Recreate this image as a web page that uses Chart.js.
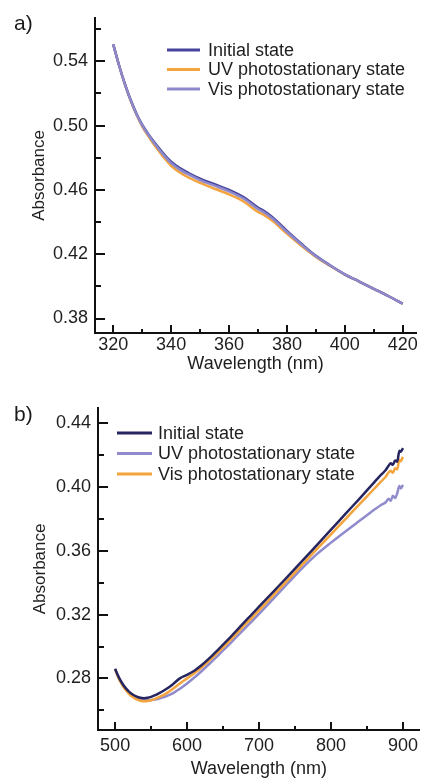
<!DOCTYPE html>
<html lang="en">
<head>
<meta charset="utf-8">
<title>Absorbance spectra</title>
<script src="https://cdn.jsdelivr.net/npm/chart.js@4.4.1/dist/chart.umd.min.js"></script>
<style>
    html, body { margin: 0; padding: 0; background: #ffffff; }
    #page { position: relative; width: 423px; height: 779px; overflow: hidden; }
    .panel { position: absolute; left: 0; width: 423px; }
    #panelA { top: 0; height: 390px; }
    #panelB { top: 390px; height: 389px; }
    canvas { display: block; }
    .panel-label {
        position: absolute;
        left: 14px;
        font: 21px/21px "Liberation Sans", Arial, sans-serif;
        color: #1a1a1a;
    }
</style>
</head>
<body>
<div id="page">
    <div class="panel" id="panelA"><canvas id="chartA" width="423" height="390"></canvas></div>
    <div class="panel" id="panelB"><canvas id="chartB" width="423" height="389"></canvas></div>
    <div class="panel-label" style="top: 12px;">a)</div>
    <div class="panel-label" style="top: 403px;">b)</div>
</div>
<script>
/**
 * Absorbance spectra (two panels)
 *
 * Purpose: UV and Vis/NIR spectra of the three states, drawn with Chart.js
 */

const FONT_FAMILY = '"Liberation Sans", Arial, sans-serif';
const TEXT_COLOR = '#1e1e1e';
const AXIS_COLOR = '#111111';

const legendLabels = ['Initial state', 'UV photostationary state', 'Vis photostationary state'];

// ---- panel a (320 - 420 nm) ----
const wavelengthA = [320, 322, 324, 326, 328, 330, 332, 334, 336, 338, 340, 343, 346, 350, 355,
    360, 365, 370, 372, 375, 380, 385, 390, 395, 400, 405, 410, 415, 420];
const initialA = [0.5505, 0.5375, 0.5260, 0.5160, 0.5075, 0.5005, 0.4950, 0.4900, 0.4855, 0.4812,
    0.4775, 0.4735, 0.4705, 0.4670, 0.4635, 0.4600, 0.4555, 0.4490, 0.4470, 0.4430, 0.4345,
    0.4265, 0.4190, 0.4130, 0.4075, 0.4030, 0.3985, 0.3940, 0.3892];
const uvA = [0.5505, 0.5375, 0.5258, 0.5155, 0.5068, 0.4995, 0.4937, 0.4884, 0.4836, 0.4790,
    0.4750, 0.4708, 0.4677, 0.4643, 0.4607, 0.4572, 0.4528, 0.4463, 0.4445, 0.4408, 0.4328,
    0.4252, 0.4183, 0.4127, 0.4073, 0.4030, 0.3985, 0.3940, 0.3892];
const visA = [0.5505, 0.5375, 0.5259, 0.5158, 0.5072, 0.5001, 0.4945, 0.4894, 0.4848, 0.4804,
    0.4766, 0.4726, 0.4696, 0.4661, 0.4626, 0.4591, 0.4546, 0.4481, 0.4461, 0.4422, 0.4338,
    0.4260, 0.4187, 0.4129, 0.4075, 0.4030, 0.3985, 0.3940, 0.3892];

const xTickLabelsA = [320, 340, 360, 380, 400, 420];
const xTickMarksA = [320, 330, 340, 350, 360, 370, 380, 390, 400, 410, 420];
const yTickLabelsA = [0.38, 0.42, 0.46, 0.50, 0.54];
const yTickMarksA = [0.38, 0.40, 0.42, 0.44, 0.46, 0.48, 0.50, 0.52, 0.54, 0.56];

// ---- panel b (500 - 900 nm) ----
const wavelengthB = [500, 505, 510, 515, 520, 525, 530, 535, 540, 545, 550, 555, 560, 570, 580,
    590, 600, 610, 620, 630, 640, 650, 660, 670, 680, 690, 700, 720, 740, 760, 780, 800, 820,
    840, 860, 870, 876, 880, 883, 886, 889, 892, 895, 897, 900];
const initialB = [0.2860, 0.2808, 0.2768, 0.2737, 0.2714, 0.2697, 0.2685, 0.2678, 0.2676, 0.2678,
    0.2684, 0.2693, 0.2704, 0.2730, 0.2762, 0.2800, 0.2822, 0.2848, 0.2882, 0.2922, 0.2966,
    0.3012, 0.3058, 0.3106, 0.3155, 0.3202, 0.3250, 0.3345, 0.3440, 0.3537, 0.3635, 0.3733,
    0.3832, 0.3930, 0.4030, 0.4080, 0.4108, 0.4135, 0.4150, 0.4140, 0.4168, 0.4160, 0.4228,
    0.4222, 0.4245];
const uvB = [0.2858, 0.2803, 0.2764, 0.2733, 0.2708, 0.2689, 0.2675, 0.2667, 0.2664, 0.2663,
    0.2664, 0.2667, 0.2672, 0.2686, 0.2706, 0.2735, 0.2768, 0.2805, 0.2845, 0.2887, 0.2930,
    0.2975, 0.3020, 0.3066, 0.3112, 0.3158, 0.3205, 0.3300, 0.3397, 0.3492, 0.3578, 0.3652,
    0.3722, 0.3790, 0.3858, 0.3890, 0.3905, 0.3928, 0.3915, 0.3946, 0.3932, 0.3962, 0.4008,
    0.3992, 0.4015];
const visB = [0.2855, 0.2800, 0.2758, 0.2725, 0.2700, 0.2681, 0.2668, 0.2660, 0.2657, 0.2658,
    0.2663, 0.2670, 0.2680, 0.2703, 0.2733, 0.2768, 0.2800, 0.2832, 0.2868, 0.2908, 0.2950,
    0.2994, 0.3040, 0.3087, 0.3135, 0.3180, 0.3227, 0.3322, 0.3417, 0.3513, 0.3609, 0.3704,
    0.3800, 0.3895, 0.3990, 0.4038, 0.4065, 0.4092, 0.4103, 0.4090, 0.4118, 0.4112, 0.4172,
    0.4163, 0.4190];

const xTickLabelsB = [500, 600, 700, 800, 900];
const xTickMarksB = [500, 550, 600, 650, 700, 750, 800, 850, 900];
const yTickLabelsB = [0.28, 0.32, 0.36, 0.40, 0.44];
const yTickMarksB = [0.26, 0.28, 0.30, 0.32, 0.34, 0.36, 0.38, 0.40, 0.42, 0.44];

/**
 * x/y 배열을 Chart.js 점 데이터로 변환
 */
function toPoints(xs, ys) {
    return xs.map((x, i) => ({ x: x, y: ys[i] }));
}

function isMajor(list, v) {
    return list.some(m => Math.abs(m - v) < 1e-9);
}

/**
 * 축 안쪽으로 향하는 눈금 표시 (major/minor)
 */
const innerTicksPlugin = {
    id: 'innerTicks',
    afterDatasetsDraw(chart, args, opts) {
        const { ctx, chartArea, scales } = chart;
        ctx.save();
        ctx.strokeStyle = AXIS_COLOR;
        ctx.lineWidth = 2;
        ctx.beginPath();
        opts.xMarks.forEach(v => {
            const px = Math.round(scales.x.getPixelForValue(v));
            const len = isMajor(opts.xMajor, v) ? 8 : 4;
            ctx.moveTo(px, chartArea.bottom);
            ctx.lineTo(px, chartArea.bottom - len);
        });
        opts.yMarks.forEach(v => {
            const py = Math.round(scales.y.getPixelForValue(v));
            const len = isMajor(opts.yMajor, v) ? 10 : 6;
            ctx.moveTo(chartArea.left, py);
            ctx.lineTo(chartArea.left + len, py);
        });
        ctx.stroke();
        ctx.restore();
    },
};

/**
 * 플롯 안쪽 범례 (선 + 라벨)
 */
const insideLegendPlugin = {
    id: 'insideLegend',
    afterDraw(chart, args, opts) {
        const ctx = chart.ctx;
        ctx.save();
        ctx.font = `${opts.fontSize}px ${FONT_FAMILY}`;
        ctx.textBaseline = 'middle';
        ctx.textAlign = 'left';
        chart.data.datasets.forEach((ds, i) => {
            const y = opts.y + i * opts.rowHeight;
            ctx.strokeStyle = ds.borderColor;
            ctx.lineWidth = 3;
            ctx.beginPath();
            ctx.moveTo(opts.x, y);
            ctx.lineTo(opts.x + opts.lineLength, y);
            ctx.stroke();
            ctx.fillStyle = TEXT_COLOR;
            ctx.fillText(ds.label, opts.x + opts.lineLength + opts.gap, y + 1);
        });
        ctx.restore();
    },
};

function makeDataset(label, points, color, order) {
    return {
        label: label,
        data: points,
        borderColor: color,
        borderWidth: 2.5,
        pointRadius: 0,
        fill: false,
        cubicInterpolationMode: 'monotone',
        order: order,
    };
}

/**
 * 패널 하나 생성
 */
function buildPanel(canvasId, cfg) {
    const canvas = document.getElementById(canvasId);
    const ctx = canvas.getContext('2d');
    const font = { family: FONT_FAMILY, size: 18 };

    return new Chart(ctx, {
        type: 'line',
        data: { datasets: cfg.datasets },
        options: {
            responsive: false,
            animation: false,
            layout: { padding: cfg.padding },
            plugins: {
                legend: { display: false },
                tooltip: { enabled: false },
                innerTicks: {
                    xMarks: cfg.xTickMarks, xMajor: cfg.xTickLabels,
                    yMarks: cfg.yTickMarks, yMajor: cfg.yTickLabels,
                },
                insideLegend: cfg.legend,
            },
            scales: {
                x: {
                    type: 'linear',
                    min: cfg.xRange[0],
                    max: cfg.xRange[1],
                    afterBuildTicks: s => { s.ticks = cfg.xTickLabels.map(v => ({ value: v })); },
                    afterFit: s => { s.height = cfg.xAxisHeight; },
                    ticks: {
                        color: TEXT_COLOR, font: font, padding: cfg.xTickPadding,
                        maxRotation: 0, autoSkip: false,
                        callback: v => String(v),
                    },
                    grid: { display: false, drawTicks: false },
                    border: { display: true, color: AXIS_COLOR, width: 2 },
                    title: {
                        display: true, text: 'Wavelength (nm)', color: TEXT_COLOR,
                        font: { family: FONT_FAMILY, size: 18, lineHeight: 1 },
                        padding: { top: 0, bottom: cfg.xTitlePad },
                    },
                },
                y: {
                    min: cfg.yRange[0],
                    max: cfg.yRange[1],
                    afterBuildTicks: s => { s.ticks = cfg.yTickLabels.map(v => ({ value: v })); },
                    afterFit: s => { s.width = cfg.yAxisWidth; },
                    ticks: {
                        color: TEXT_COLOR, font: font, padding: 7,
                        callback: v => v.toFixed(2),
                    },
                    grid: { display: false, drawTicks: false },
                    border: { display: true, color: AXIS_COLOR, width: 2 },
                    title: {
                        display: true, text: 'Absorbance', color: TEXT_COLOR,
                        font: { family: FONT_FAMILY, size: 17, lineHeight: 1 },
                        padding: { top: cfg.yTitlePad, bottom: 0 },
                    },
                },
            },
        },
        plugins: [innerTicksPlugin, insideLegendPlugin],
    });
}

// panel a: 범례 순서 Initial / UV / Vis
buildPanel('chartA', {
    datasets: [
        makeDataset(legendLabels[0], toPoints(wavelengthA, initialA), '#46449c', 1),
        makeDataset(legendLabels[1], toPoints(wavelengthA, uvA), '#f3a43c', 2),
        makeDataset(legendLabels[2], toPoints(wavelengthA, visA), '#8d89cb', 0),
    ],
    xRange: [313.7, 424.6],
    yRange: [0.371, 0.567],
    xTickLabels: xTickLabelsA, xTickMarks: xTickMarksA,
    yTickLabels: yTickLabelsA, yTickMarks: yTickMarksA,
    padding: { top: 13, right: 7, left: 0, bottom: 0 },
    yAxisWidth: 95,
    xAxisHeight: 57,
    xTickPadding: 1,
    xTitlePad: 17,
    yTitlePad: 31,
    legend: { x: 167, y: 50, rowHeight: 19.5, lineLength: 33, gap: 8, fontSize: 18 },
});

// panel b: 범례 순서 Initial / UV / Vis (색 배치가 a와 다름)
buildPanel('chartB', {
    datasets: [
        makeDataset(legendLabels[0], toPoints(wavelengthB, initialB), '#27255f', 0),
        makeDataset(legendLabels[1], toPoints(wavelengthB, uvB), '#8f8bcc', 2),
        makeDataset(legendLabels[2], toPoints(wavelengthB, visB), '#f3a43c', 1),
    ],
    xRange: [476.2, 923.4],
    yRange: [0.2476, 0.4498],
    xTickLabels: xTickLabelsB, xTickMarks: xTickMarksB,
    yTickLabels: yTickLabelsB, yTickMarks: yTickMarksB,
    padding: { top: 17, right: 0, left: 0, bottom: 0 },
    yAxisWidth: 98,
    xAxisHeight: 49,
    xTickPadding: 5,
    xTitlePad: 1,
    yTitlePad: 32,
    legend: { x: 117, y: 43, rowHeight: 20.5, lineLength: 35, gap: 6, fontSize: 18 },
});
</script>
</body>
</html>
